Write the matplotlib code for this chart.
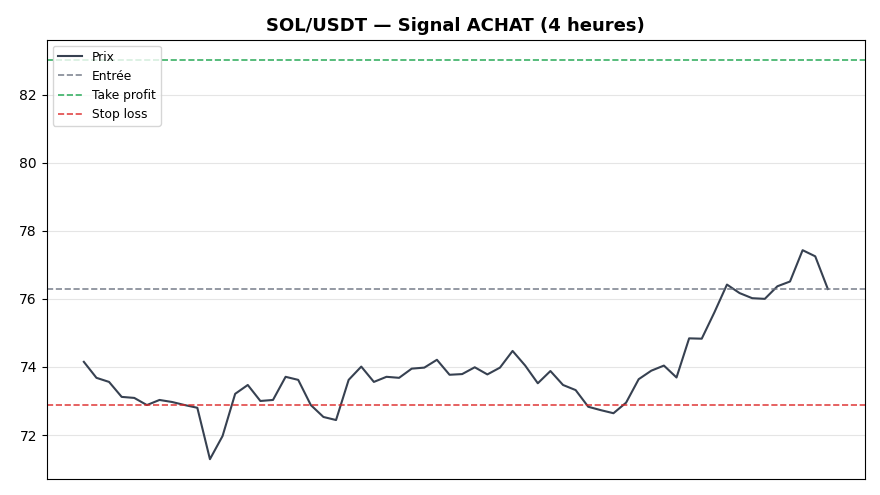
import matplotlib
matplotlib.use('Agg')
import matplotlib.pyplot as plt

# closing prices, 4h candles
prix = [74.15, 73.68, 73.56, 73.12, 73.09, 72.88, 73.03, 72.97, 72.88, 72.80,
        71.29, 71.97, 73.21, 73.47, 73.00, 73.03, 73.71, 73.62, 72.88, 72.53,
        72.44, 73.62, 74.01, 73.56, 73.71, 73.68, 73.95, 73.98, 74.21, 73.77,
        73.79, 73.99, 73.78, 73.98, 74.47, 74.04, 73.52, 73.88, 73.47, 73.32,
        72.83, 72.73, 72.64, 72.95, 73.64, 73.89, 74.04, 73.69, 74.84, 74.83,
        75.60, 76.42, 76.17, 76.02, 76.00, 76.37, 76.51, 77.43, 77.25, 76.29]
entree = 76.29
take_profit = 83.03
stop_loss = 72.89

fig, ax = plt.subplots(figsize=(8.8, 4.95), dpi=100)

ax.plot(range(len(prix)), prix, color='#374151', linewidth=1.5, label='Prix')
ax.axhline(entree, color='#6b7280', linestyle='--', linewidth=1.2, alpha=0.85, label='Entrée')
ax.axhline(take_profit, color='#16a34a', linestyle='--', linewidth=1.2, alpha=0.85, label='Take profit')
ax.axhline(stop_loss, color='#dc2626', linestyle='--', linewidth=1.2, alpha=0.85, label='Stop loss')

ax.set_title('SOL/USDT — Signal ACHAT (4 heures)', fontweight='bold', fontsize=13)
ax.set_xticks([])
ax.grid(True, axis='y', color='#e5e5e5')
ax.set_axisbelow(True)
ax.legend(loc='upper left', fontsize=8.8)

plt.subplots_adjust(left=0.053, right=0.983, top=0.92, bottom=0.032)
plt.savefig('out.png', dpi=100)
plt.close()
